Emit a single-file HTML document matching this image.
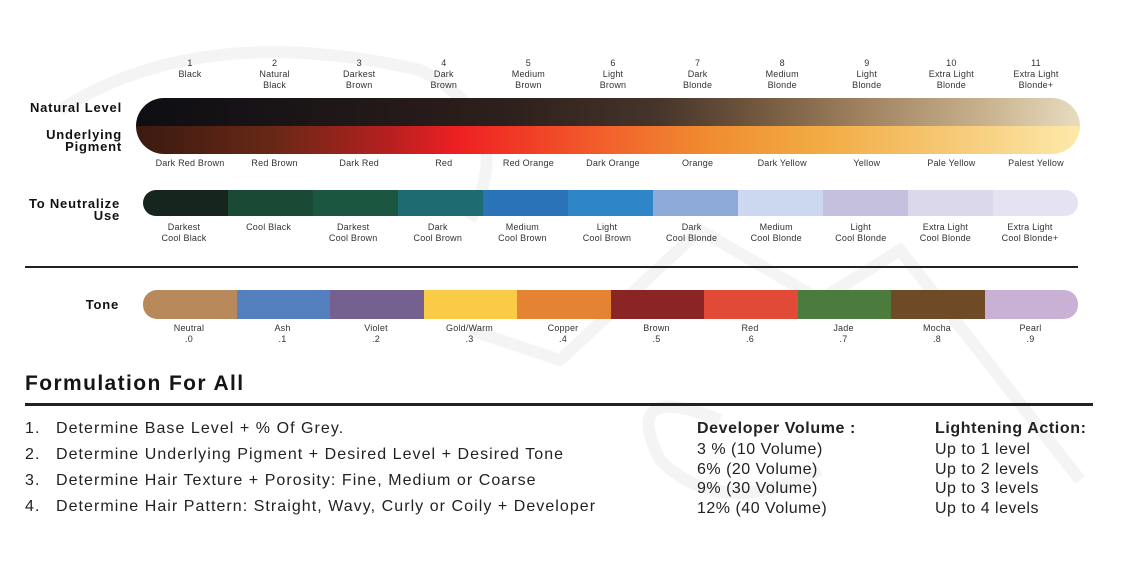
<!DOCTYPE html>
<html><head><meta charset="utf-8"><style>
*{margin:0;padding:0;box-sizing:border-box}
body{width:1137px;height:565px;background:#fff;position:relative;overflow:hidden;font-family:"Liberation Sans",sans-serif;color:#222}
.a{position:absolute}
.lb{position:absolute;font-size:9px;line-height:11px;text-align:center;width:90px;color:#333;letter-spacing:0.2px}
.hd{position:absolute;font-weight:bold;font-size:13px;line-height:12px;text-align:right;color:#111;letter-spacing:0.8px}
.seg{position:absolute;top:0;height:100%}
.t{position:absolute;font-size:16px;color:#222;white-space:nowrap;letter-spacing:1.05px}
</style></head><body>
<svg class="a" style="left:0;top:0" width="1137" height="565">
<g fill="none" stroke="#f4f4f4" stroke-width="12">
<path d="M60 110 Q200 20 420 70 Q520 120 470 220"/>
<path d="M470 330 L560 360 L700 230 L820 300 L900 250 L1080 480"/>
<path d="M720 420 Q620 380 660 460 Q720 520 820 470"/>
</g></svg>
<div id="lv"></div>
<div class="hd" style="left:0;width:122px;top:102px">Natural Level</div>
<div class="hd" style="left:0;width:122px;top:129px">Underlying<br>Pigment</div>
<div class="a" style="left:136px;top:98px;width:944px;height:56px;border-radius:28px;overflow:hidden">
<div class="a" style="left:0;top:0;width:100%;height:28px;background:linear-gradient(90deg,#0d0e13 0%,#1e1617 20%,#2e201c 40%,#45342a 55%,#6e553c 65%,#a08260 77%,#c8b28e 90%,#e8dcc0 100%)"></div>
<div class="a" style="left:0;top:28px;width:100%;height:28px;background:linear-gradient(90deg,#3a1a10 0%,#6a2816 15%,#b82020 27%,#ee1f22 34%,#f2552a 47%,#f08a30 60%,#f2aa42 72%,#f6c874 86%,#fde9aa 100%)"></div>
</div>
<div class="hd" style="left:0;width:120px;top:198px">To Neutralize<br>Use</div>
<div class="a" style="left:143px;top:190px;width:935px;height:26px;border-radius:13px;overflow:hidden" id="nb"></div>
<div class="a" style="left:25px;top:266px;width:1053px;height:2px;background:#222"></div>
<div class="hd" style="left:0;width:119px;top:299px">Tone</div>
<div class="a" style="left:143px;top:290px;width:935px;height:29px;border-radius:14px;overflow:hidden" id="tb"></div>
<div class="a" style="left:25px;top:372px;font-size:21px;font-weight:bold;color:#151515;letter-spacing:1.4px">Formulation For All</div>
<div class="a" style="left:25px;top:403px;width:1068px;height:3px;background:#222"></div>
<div class="t" style="left:25px;top:420px">1.</div><div class="t" style="left:56px;top:420px">Determine Base Level + % Of Grey.</div>
<div class="t" style="left:25px;top:446px">2.</div><div class="t" style="left:56px;top:446px">Determine Underlying Pigment + Desired Level + Desired Tone</div>
<div class="t" style="left:25px;top:472px">3.</div><div class="t" style="left:56px;top:472px">Determine Hair Texture + Porosity: Fine, Medium or Coarse</div>
<div class="t" style="left:25px;top:498px">4.</div><div class="t" style="left:56px;top:498px">Determine Hair Pattern: Straight, Wavy, Curly or Coily + Developer</div>
<div class="t" style="left:697px;top:420px;font-weight:bold;letter-spacing:0.6px">Developer Volume :</div>
<div class="t" style="left:697px;top:440px;line-height:19.5px;letter-spacing:0.5px">3 % (10 Volume)<br>6% (20 Volume)<br>9% (30 Volume)<br>12% (40 Volume)</div>
<div class="t" style="left:935px;top:420px;font-weight:bold;letter-spacing:0.6px">Lightening Action:</div>
<div class="t" style="left:935px;top:440px;line-height:19.5px;letter-spacing:0.5px">Up to 1 level<br>Up to 2 levels<br>Up to 3 levels<br>Up to 4 levels</div>
<script>
var L=[["1","Black",""],["2","Natural","Black"],["3","Darkest","Brown"],["4","Dark","Brown"],["5","Medium","Brown"],["6","Light","Brown"],["7","Dark","Blonde"],["8","Medium","Blonde"],["9","Light","Blonde"],["10","Extra Light","Blonde"],["11","Extra Light","Blonde+"]];
var P=["Dark Red Brown","Red Brown","Dark Red","Red","Red Orange","Dark Orange","Orange","Dark Yellow","Yellow","Pale Yellow","Palest Yellow"];
var N=[["Darkest","Cool Black"],["Cool Black",""],["Darkest","Cool Brown"],["Dark","Cool Brown"],["Medium","Cool Brown"],["Light","Cool Brown"],["Dark","Cool Blonde"],["Medium","Cool Blonde"],["Light","Cool Blonde"],["Extra Light","Cool Blonde"],["Extra Light","Cool Blonde+"]];
var NC=["#16261f","#1a4a36","#1b5641","#1e6b72","#2a73b8","#2e86c8","#8eaad8","#cbd8ef","#c5c0dd","#dbd8eb","#e5e3f1"];
var T=[["Neutral",".0"],["Ash",".1"],["Violet",".2"],["Gold/Warm",".3"],["Copper",".4"],["Brown",".5"],["Red",".6"],["Jade",".7"],["Mocha",".8"],["Pearl",".9"]];
var TC=["#b8895a","#5580c0","#74618f","#f9cb46","#e58334","#8b2425","#e04a37","#4b7c3e","#6f4a26","#c9b1d6"];
var h="";
for(var i=0;i<11;i++){var c=190+i*84.6;
h+='<div class="lb" style="left:'+(c-45)+'px;top:58px">'+L[i].join("<br>")+'</div>';
h+='<div class="lb" style="left:'+(c-45)+'px;top:158px">'+P[i]+'</div>';
var c2=184+i*84.6;
h+='<div class="lb" style="left:'+(c2-45)+'px;top:222px">'+N[i].join("<br>")+'</div>';}
for(var i=0;i<10;i++){var c=189+i*93.5;
h+='<div class="lb" style="left:'+(c-45)+'px;top:323px">'+T[i].join("<br>")+'</div>';}
document.getElementById("lv").innerHTML=h;
var n="";for(var i=0;i<11;i++)n+='<div class="seg" style="left:'+(i*85)+'px;width:86px;background:'+NC[i]+'"></div>';
document.getElementById("nb").innerHTML=n;
var t="";for(var i=0;i<10;i++)t+='<div class="seg" style="left:'+(i*93.5)+'px;width:94.5px;background:'+TC[i]+'"></div>';
document.getElementById("tb").innerHTML=t;
</script>
</body></html>
